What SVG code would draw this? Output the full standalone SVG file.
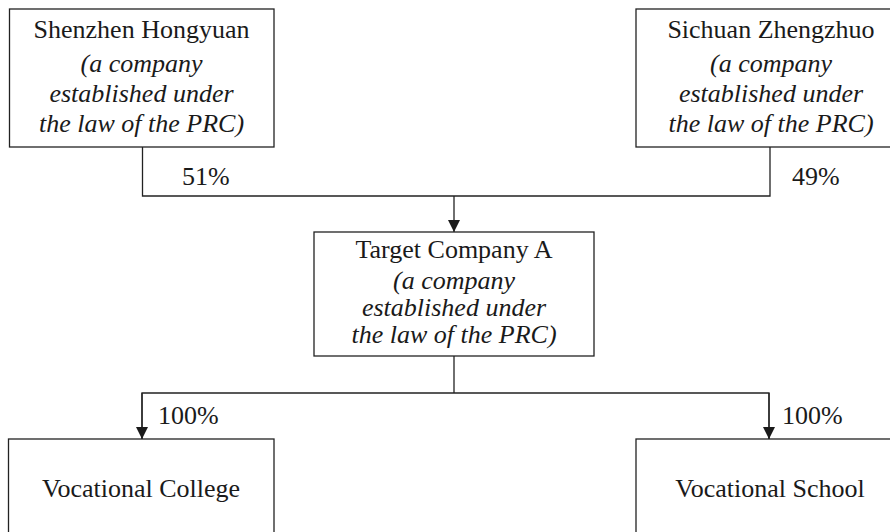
<svg xmlns="http://www.w3.org/2000/svg" width="890" height="532" viewBox="0 0 890 532">
<style>
.box{fill:#fff;stroke:#222;stroke-width:1.3}
.t{font-size:26px;fill:#1a1a1a;text-anchor:middle}
.i{font-style:italic}
.p{font-size:26px;fill:#1a1a1a}
.ln{fill:none;stroke:#222;stroke-width:1.3}
</style>
<defs>
<marker id="arr" markerUnits="userSpaceOnUse" markerWidth="14" markerHeight="14" viewBox="0 0 14 14" refX="13" refY="7" orient="auto">
<path d="M1,1 L13,7 L1,13 Z" fill="#1a1a1a"/>
</marker>
</defs>
<rect width="890" height="532" fill="#fff"/>
<g font-family="Liberation Serif, Times New Roman, Times, serif">
<g id="connectors">
<polyline class="ln" points="142.5,147 142.5,196 770,196 770,147"/>
<line class="ln" x1="454" y1="196" x2="454" y2="232" marker-end="url(#arr)"/>
<line class="ln" x1="454" y1="356" x2="454" y2="393"/>
<polyline class="ln" points="142,439 142,393 769,393 769,439"/>
<line class="ln" x1="142" y1="393" x2="142" y2="439" marker-end="url(#arr)"/>
<line class="ln" x1="769" y1="393" x2="769" y2="439" marker-end="url(#arr)"/>
<text class="p" x="182" y="185">51%</text>
<text class="p" x="792" y="185">49%</text>
<text class="p" x="158" y="424">100%</text>
<text class="p" x="782" y="424">100%</text>
</g>
<g id="shenzhen">
<rect class="box" x="9.5" y="9" width="264.5" height="138"/>
<text class="t" x="141.5" y="38">Shenzhen Hongyuan</text>
<text class="t i" x="141.5" y="72">(a company</text>
<text class="t i" x="141.5" y="101.5">established under</text>
<text class="t i" x="141.5" y="131.5">the law of the PRC)</text>
</g>
<g id="sichuan">
<rect class="box" x="636" y="9" width="270" height="138"/>
<text class="t" x="771" y="38">Sichuan Zhengzhuo</text>
<text class="t i" x="771" y="72">(a company</text>
<text class="t i" x="771" y="101.5">established under</text>
<text class="t i" x="771" y="131.5">the law of the PRC)</text>
</g>
<g id="target">
<rect class="box" x="314" y="232" width="280" height="124"/>
<text class="t" x="454" y="258">Target Company A</text>
<text class="t i" x="454" y="289">(a company</text>
<text class="t i" x="454" y="316">established under</text>
<text class="t i" x="454" y="343">the law of the PRC)</text>
</g>
<g id="college">
<rect class="box" x="8.5" y="439" width="265.5" height="110"/>
<text class="t" x="141" y="497">Vocational College</text>
</g>
<g id="school">
<rect class="box" x="636" y="439" width="270" height="110"/>
<text class="t" x="770" y="497">Vocational School</text>
</g>
</g>
</svg>
